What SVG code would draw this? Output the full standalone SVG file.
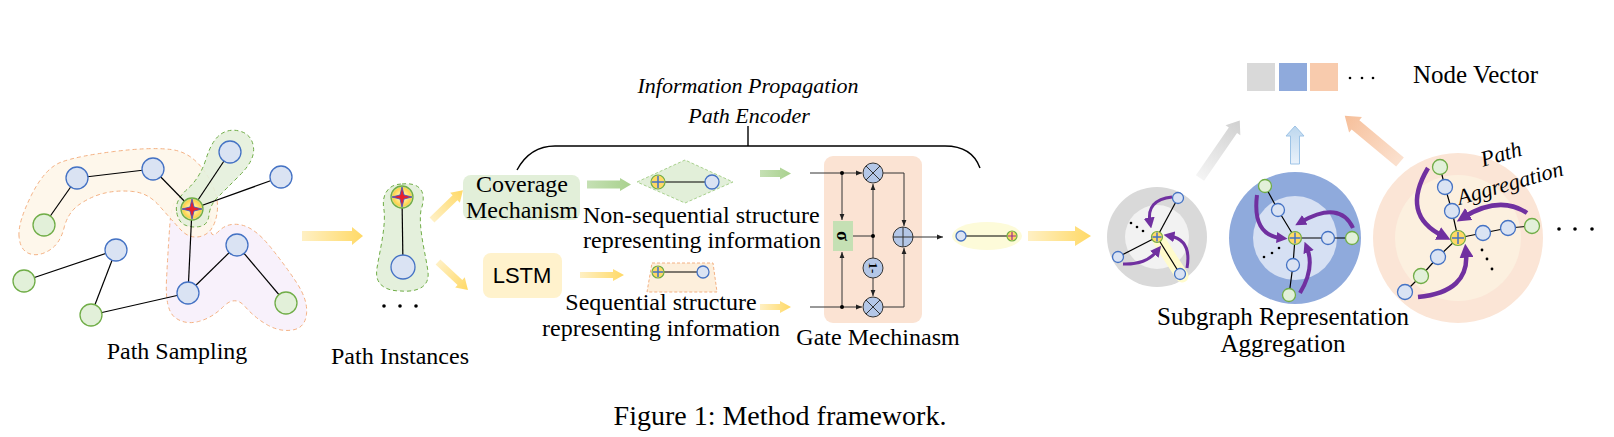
<svg xmlns="http://www.w3.org/2000/svg" width="1614" height="437" viewBox="0 0 1614 437">
<defs>
<style>
.nb{fill:#dae3f3;stroke:#4472c4;stroke-width:1.3}
.ng{fill:#e2f0d9;stroke:#70ad47;stroke-width:1.3}
.e{stroke:#000;stroke-width:1.2;fill:none}
.t{font-family:"Liberation Serif",serif;fill:#000}
.ti{font-family:"Liberation Serif",serif;font-style:italic;fill:#000}
.ya{fill:url(#yg)}
.ga{fill:url(#gg)}
.gl{stroke:#333;stroke-width:1;fill:none}
.op{fill:#b4c7e7;stroke:#333;stroke-width:1}
.pa{fill:none;stroke:#7030a0;stroke-linecap:butt}
.cn{fill:#ffd966;stroke:#70ad47;stroke-width:1.2}
.px{stroke:#4472c4;stroke-width:1.5}
</style>
<linearGradient id="yg" x1="0" y1="0" x2="1" y2="0"><stop offset="0" stop-color="#fff0c4"/><stop offset="1" stop-color="#ffd966"/></linearGradient>
<linearGradient id="gg" x1="0" y1="0" x2="1" y2="0"><stop offset="0" stop-color="#c5e0b4"/><stop offset="1" stop-color="#a9d18e"/></linearGradient>
<linearGradient id="grg" x1="0" y1="0" x2="1" y2="0"><stop offset="0" stop-color="#f4f4f4"/><stop offset="1" stop-color="#d0d0d0"/></linearGradient>
<linearGradient id="blg" x1="0" y1="0" x2="1" y2="0"><stop offset="0" stop-color="#eaf2fb"/><stop offset="1" stop-color="#bdd7ee"/></linearGradient>
<linearGradient id="org" x1="0" y1="0" x2="1" y2="0"><stop offset="0" stop-color="#fbe1cf"/><stop offset="1" stop-color="#f6bf9a"/></linearGradient>
<radialGradient id="glow"><stop offset="0.3" stop-color="#fff2a8"/><stop offset="0.8" stop-color="#ffd34d"/><stop offset="1" stop-color="#c9e3b0"/></radialGradient>
<marker id="ah" viewBox="0 0 10 10" refX="10" refY="5" markerWidth="6" markerHeight="6" markerUnits="userSpaceOnUse" orient="auto"><path d="M0,1 L10,5 L0,9 Z" fill="#222"/></marker>
<marker id="pm" viewBox="0 0 10 10" refX="4" refY="5" markerWidth="11" markerHeight="11" markerUnits="userSpaceOnUse" orient="auto"><path d="M0,0 L10,5 L0,10 Z" fill="#7030a0"/></marker>
<marker id="pm2" viewBox="0 0 10 10" refX="4" refY="5" markerWidth="14" markerHeight="14" markerUnits="userSpaceOnUse" orient="auto"><path d="M0,0 L10,5 L0,10 Z" fill="#7030a0"/></marker>
</defs>
<rect width="1614" height="437" fill="#fff"/>

<g id="path-sampling">
<path d="M186,191.5 Q200,188 206,201.5 Q212,215 211,227.5 Q210,240 219,231 Q228,222 241.5,225 Q255,228 270,246.5 Q285,265 296.5,282.5 Q308,300 306.5,314 Q305,328 292.5,330 Q280,332 267.5,325 Q255,318 245,306.5 Q235,295 223.5,306.5 Q212,318 198.5,321.5 Q185,325 175,317.5 Q165,310 166.5,280 Q168,250 170,222.5 Q172,195 186,191.5 Z" fill="#f8f1fb" stroke="#f4b183" stroke-width="1" stroke-dasharray="4,3"/>
<path d="M19,236 Q18,222 31.5,195 Q45,168 61.5,162 Q78,156 114,151.5 Q150,147 171,149.5 Q192,152 206,173.5 Q220,195 217,213.5 Q214,232 202,236 Q190,240 180,229 Q170,218 159,205.5 Q148,193 133,191.5 Q118,190 105,193 Q92,196 80,204 Q68,212 64,228 Q60,244 49,250.5 Q38,257 29,253.5 Q20,250 19,236 Z" fill="#fef6e9" fill-opacity="0.9" stroke="#f4b183" stroke-width="1" stroke-dasharray="4,3"/>
<path d="M176.5,211 Q175,200 187.5,189 Q200,178 206,159 Q212,140 221,134 Q230,128 241,131.5 Q252,135 253.5,147.5 Q255,160 240,175 Q225,190 217.5,197.5 Q210,205 209,215 Q208,225 200,226.5 Q192,228 185,225 Q178,222 176.5,211 Z" fill="#e4f0dc" fill-opacity="0.9" stroke="#70ad47" stroke-width="1" stroke-dasharray="4,3"/>
<g class="e">
<line x1="44" y1="225" x2="77" y2="178"/>
<line x1="77" y1="178" x2="153" y2="169"/>
<line x1="153" y1="169" x2="192" y2="209"/>
<line x1="230" y1="152" x2="192" y2="209"/>
<line x1="192" y1="209" x2="281" y2="177"/>
<line x1="192" y1="209" x2="188" y2="293"/>
<line x1="24" y1="281" x2="116" y2="250"/>
<line x1="116" y1="250" x2="91" y2="315"/>
<line x1="91" y1="315" x2="188" y2="293"/>
<line x1="188" y1="293" x2="237" y2="245"/>
<line x1="237" y1="245" x2="286" y2="303"/>
</g>
<circle class="nb" cx="77" cy="178" r="11"/>
<circle class="nb" cx="153" cy="169" r="11"/>
<circle class="nb" cx="230" cy="152" r="11"/>
<circle class="nb" cx="281" cy="177" r="11"/>
<circle class="nb" cx="116" cy="250" r="11"/>
<circle class="nb" cx="188" cy="293" r="11"/>
<circle class="nb" cx="237" cy="245" r="11"/>
<circle class="ng" cx="44" cy="225" r="11"/>
<circle class="ng" cx="24" cy="281" r="11"/>
<circle class="ng" cx="91" cy="315" r="11"/>
<circle class="ng" cx="286" cy="303" r="11"/>
<circle cx="192" cy="209" r="11" fill="url(#glow)" stroke="#70ad47" stroke-width="1.3"/>
<polygon points="192,199 194,207 202,209 194,211 192,219 190,211 182,209 190,207" fill="#e8202a" stroke="#3a4fc8" stroke-width="0.8"/>
<text class="t" x="177" y="359" font-size="24" text-anchor="middle">Path Sampling</text>
</g>

<g id="arrow-sampling">
<polygon class="ya" points="302,231 352,231 352,227 363,236 352,245 352,241 302,241"/>
</g>

<g id="path-instances">
<path d="M402,184 C418,182 428,190 421,210 C418,228 426,255 428,272 C430,290 412,292 401,291 C386,291 374,285 377,268 C380,250 386,226 384,210 C381,195 388,184 402,184 Z" fill="#e4f0dc" stroke="#70ad47" stroke-width="1" stroke-dasharray="4,3"/>
<line class="e" x1="402" y1="197" x2="403" y2="267"/>
<circle class="nb" cx="403" cy="267" r="12"/>
<circle cx="402" cy="197" r="11" fill="url(#glow)" stroke="#70ad47" stroke-width="1.3"/>
<polygon points="402,187 404,195 412,197 404,199 402,207 400,199 392,197 400,195" fill="#e8202a" stroke="#3a4fc8" stroke-width="0.8"/>
<circle cx="384" cy="306" r="1.8"/><circle cx="400" cy="306" r="1.8"/><circle cx="416" cy="306" r="1.8"/>
<text class="t" x="400" y="364" font-size="24" text-anchor="middle">Path Instances</text>
</g>

<g id="connectors">
<polygon class="ya" transform="translate(432,220) rotate(-44)" points="0,-3.5 32,-3.5 32,-7 43,0 32,7 32,3.5 0,3.5"/>
<polygon class="ya" transform="translate(438,262) rotate(43)" points="0,-3.5 30,-3.5 30,-7 41,0 30,7 30,3.5 0,3.5"/>
<polygon class="ga" points="587,180.5 620,180.5 620,178 631,184.5 620,191 620,188.5 587,188.5"/>
<polygon class="ga" points="760,170 780,170 780,167.5 791,173.5 780,179.5 780,177 760,177"/>
<polygon class="ya" points="580,272 613,272 613,269 624,275 613,281 613,278 580,278"/>
<polygon class="ya" points="760,304 780,304 780,301 791,307 780,313 780,310 760,310"/>
<polygon class="ya" points="1028,231 1075,231 1075,226 1091,236 1075,246 1075,241 1028,241"/>
<polygon fill="url(#grg)" transform="translate(1200,178) rotate(-55.4)" points="0,-5 58,-5 58,-9 70,0 58,9 58,5 0,5"/>
<polygon fill="url(#blg)" stroke="#9dc3e6" stroke-width="1" transform="translate(1295,164) rotate(-90)" points="0,-4.5 28,-4.5 28,-9 38,0 28,9 28,4.5 0,4.5"/>
<polygon fill="url(#org)" transform="translate(1400,162) rotate(-140.1)" points="0,-6 58,-6 58,-10 72,0 58,10 58,6 0,6"/>
<path d="M517,170 Q530,146 555,146 L945,146 Q972,146 980,168" fill="none" stroke="#000" stroke-width="1.4"/>
<line x1="748" y1="146" x2="748" y2="126" stroke="#000" stroke-width="1.4"/>
</g>

<g id="encoder-title">
<text class="ti" x="748" y="93" font-size="22" text-anchor="middle">Information Propagation</text>
<text class="ti" x="749" y="123" font-size="22" text-anchor="middle">Path Encoder</text>
</g>

<g id="coverage">
<rect x="463" y="175" width="117" height="45" rx="8" fill="#e2efd9"/>
<text class="t" x="522" y="192" font-size="24" text-anchor="middle">Coverage</text>
<text class="t" x="522" y="218" font-size="24" text-anchor="middle">Mechanism</text>
</g>

<g id="lstm">
<rect x="483" y="253" width="79" height="45" rx="8" fill="#fff2cc"/>
<text x="522" y="283" font-family="Liberation Sans,sans-serif" font-size="22" text-anchor="middle">LSTM</text>
</g>

<g id="non-sequential">
<polygon points="637,182 685,160 733,182 685,203" fill="#e2efd9" stroke="#a9d18e" stroke-width="1" stroke-dasharray="3,2"/>
<line class="e" x1="658" y1="182" x2="712" y2="182"/>
<circle class="nb" cx="712" cy="182" r="7"/>
<circle class="cn" cx="658" cy="182" r="7"/>
<path class="px" d="M658,176 V188 M652,182 H664"/>
<text class="t" x="583" y="223" font-size="24">Non-sequential structure</text>
<text class="t" x="583" y="248" font-size="24">representing information</text>
</g>

<g id="sequential">
<polygon points="652,263 713,263 717,292 647,292" fill="#fdefdc" stroke="#f4b183" stroke-width="1" stroke-dasharray="3,2"/>
<line class="e" x1="658" y1="272" x2="703" y2="272"/>
<circle class="nb" cx="703" cy="272" r="6"/>
<circle class="cn" cx="658" cy="272" r="6"/>
<path class="px" d="M658,267 V277 M653,272 H663"/>
<text class="t" x="661" y="310" font-size="24" text-anchor="middle">Sequential structure</text>
<text class="t" x="661" y="336" font-size="24" text-anchor="middle">representing information</text>
</g>

<g id="gate">
<rect x="824" y="156" width="98" height="167" rx="9" fill="#fbe3d3"/>
<path class="gl" d="M810,173 H862" marker-end="url(#ah)"/>
<path class="gl" d="M810,307 H862" marker-end="url(#ah)"/>
<path class="gl" d="M842,173 V220" marker-end="url(#ah)"/>
<path class="gl" d="M842,307 V252" marker-end="url(#ah)"/>
<path class="gl" d="M853,236 H873"/>
<path class="gl" d="M873,236 V184" marker-end="url(#ah)"/>
<path class="gl" d="M873,236 V258"/>
<path class="gl" d="M873,278 V296" marker-end="url(#ah)"/>
<path class="gl" d="M883,173 H904 V226" marker-end="url(#ah)"/>
<path class="gl" d="M883,307 H904 V248" marker-end="url(#ah)"/>
<path class="gl" d="M913,237 H943" marker-end="url(#ah)"/>
<circle cx="842" cy="173" r="2"/><circle cx="842" cy="307" r="2"/><circle cx="873" cy="236" r="2"/>
<rect x="833" y="221" width="20" height="30" fill="#c5e0b4"/>
<text class="t" x="843" y="236" font-size="18" font-weight="bold" text-anchor="middle" dominant-baseline="central" transform="rotate(90 843 236)">σ</text>
<circle class="op" cx="873" cy="173" r="10"/>
<path class="gl" d="M866,166 L880,180 M880,166 L866,180"/>
<circle class="op" cx="873" cy="307" r="10"/>
<path class="gl" d="M866,300 L880,314 M880,300 L866,314"/>
<circle class="op" cx="873" cy="268" r="10"/>
<text class="t" x="873" y="268" font-size="13" font-weight="bold" text-anchor="middle" dominant-baseline="central" transform="rotate(90 873 268)">1-</text>
<circle class="op" cx="903" cy="237" r="10"/>
<path class="gl" d="M893,237 H913 M903,227 V247"/>
<text class="t" x="878" y="345" font-size="24" text-anchor="middle">Gate Mechinasm</text>
</g>

<g id="encoded-path">
<ellipse cx="987" cy="236" rx="35" ry="14" fill="#fdfbd9"/>
<line class="e" x1="961" y1="236" x2="1012" y2="236"/>
<circle class="nb" cx="961" cy="236" r="5"/>
<circle class="cn" cx="1012" cy="236" r="5"/>
<path d="M1012,232 V240 M1008,236 H1016" stroke="#9b2d8f" stroke-width="1.2"/>
</g>

<g id="subgraph-gray">
<circle cx="1157" cy="237" r="50" fill="#d9d9d9"/>
<circle cx="1157" cy="237" r="32" fill="#f2f2f2"/>
<line x1="1157" y1="237" x2="1182" y2="276" stroke="#fffbcc" stroke-width="13" stroke-linecap="round"/>
<g class="e"><line x1="1157" y1="237" x2="1178" y2="198"/><line x1="1157" y1="237" x2="1118" y2="257"/><line x1="1157" y1="237" x2="1180" y2="274"/></g>
<circle class="nb" cx="1178" cy="198" r="5.5"/>
<circle class="nb" cx="1118" cy="257" r="5.5"/>
<circle class="nb" cx="1180" cy="274" r="5.5"/>
<circle class="cn" cx="1157" cy="237" r="5.5"/>
<path class="px" d="M1157,232.5 V241.5 M1152.5,237 H1161.5"/>
<circle cx="1131" cy="223" r="1.3"/><circle cx="1137" cy="227" r="1.3"/><circle cx="1143" cy="231" r="1.3"/>
<path class="pa" stroke-width="3" d="M1172,197 Q1146,200 1150,222" marker-end="url(#pm)"/>
<path class="pa" stroke-width="3" d="M1187,268 Q1192,240 1170,236" marker-end="url(#pm)"/>
<path class="pa" stroke-width="3" d="M1123,264 Q1146,265 1157,251" marker-end="url(#pm)"/>
</g>

<g id="subgraph-blue">
<circle cx="1295" cy="238" r="66" fill="#8faadc"/>
<circle cx="1295" cy="238" r="42" fill="#d6e0f3"/>
<g class="e"><polyline points="1295,238 1278,210 1265,186"/><polyline points="1295,238 1328,238 1352,238"/><polyline points="1295,238 1293,265 1289,295"/></g>
<circle class="nb" cx="1278" cy="210" r="6.5"/>
<circle class="ng" cx="1265" cy="186" r="6.5"/>
<circle class="nb" cx="1328" cy="238" r="6.5"/>
<circle class="ng" cx="1352" cy="238" r="6.5"/>
<circle class="nb" cx="1293" cy="265" r="6.5"/>
<circle class="ng" cx="1289" cy="295" r="6.5"/>
<circle class="cn" cx="1295" cy="238" r="6.5"/>
<path class="px" d="M1295,232.5 V243.5 M1289.5,238 H1300.5"/>
<circle cx="1264" cy="257" r="1.3"/><circle cx="1272" cy="253" r="1.3"/><circle cx="1279" cy="248" r="1.3"/>
<path class="pa" stroke-width="4" d="M1257,195 Q1252,235 1281,238" marker-end="url(#pm)"/>
<path class="pa" stroke-width="4" d="M1353,228 Q1340,200 1301,222" marker-end="url(#pm)"/>
<path class="pa" stroke-width="4" d="M1300,293 Q1315,268 1307,248" marker-end="url(#pm)"/>
</g>

<g id="subgraph-orange">
<circle cx="1458" cy="238" r="85" fill="#fbe5d6"/>
<circle cx="1458" cy="238" r="63" fill="#fcf0df"/>
<g class="e"><polyline points="1458,238 1452,211 1445,187 1440,167"/><polyline points="1458,238 1483,233 1508,228 1532,226"/><polyline points="1458,238 1438,257 1421,276 1405,292"/></g>
<circle class="nb" cx="1452" cy="211" r="7.5"/>
<circle class="nb" cx="1445" cy="187" r="7.5"/>
<circle class="ng" cx="1440" cy="167" r="7.5"/>
<circle class="nb" cx="1483" cy="233" r="7.5"/>
<circle class="nb" cx="1508" cy="228" r="7.5"/>
<circle class="ng" cx="1532" cy="226" r="7.5"/>
<circle class="nb" cx="1438" cy="257" r="7.5"/>
<circle class="ng" cx="1421" cy="276" r="7.5"/>
<circle class="nb" cx="1405" cy="292" r="7.5"/>
<circle class="cn" cx="1458" cy="238" r="7.5"/>
<path class="px" d="M1458,232 V244 M1452,238 H1464"/>
<circle cx="1482" cy="250" r="1.4"/><circle cx="1487" cy="259" r="1.4"/><circle cx="1492" cy="269" r="1.4"/>
<path class="pa" stroke-width="4.5" d="M1428,168 Q1400,215 1443,236" marker-end="url(#pm2)"/>
<path class="pa" stroke-width="4.5" d="M1527,213 Q1500,195 1464,217" marker-end="url(#pm2)"/>
<path class="pa" stroke-width="4.5" d="M1418,297 Q1470,292 1466,252" marker-end="url(#pm2)"/>
<text class="ti" x="1503" y="161" font-size="22" text-anchor="middle" transform="rotate(-16 1503 161)">Path</text>
<text class="ti" x="1512" y="190" font-size="22" text-anchor="middle" transform="rotate(-16 1512 190)">Aggregation</text>
<circle cx="1559" cy="229" r="1.8"/><circle cx="1575" cy="229" r="1.8"/><circle cx="1592" cy="229" r="1.8"/>
</g>

<g id="subgraph-label">
<text class="t" x="1283" y="325" font-size="25" text-anchor="middle">Subgraph Representation</text>
<text class="t" x="1283" y="352" font-size="25" text-anchor="middle">Aggregation</text>
</g>

<g id="node-vector">
<rect x="1247" y="63" width="28" height="28" fill="#d9d9d9"/>
<rect x="1279" y="63" width="28" height="28" fill="#8faadc"/>
<rect x="1310" y="63" width="28" height="28" fill="#f8cbad"/>
<circle cx="1350" cy="78" r="1.3"/><circle cx="1362" cy="78" r="1.3"/><circle cx="1373" cy="78" r="1.3"/>
<text class="t" x="1413" y="83" font-size="25">Node Vector</text>
</g>

<text class="t" x="780" y="425" font-size="28" text-anchor="middle">Figure 1: Method framework.</text>
</svg>
